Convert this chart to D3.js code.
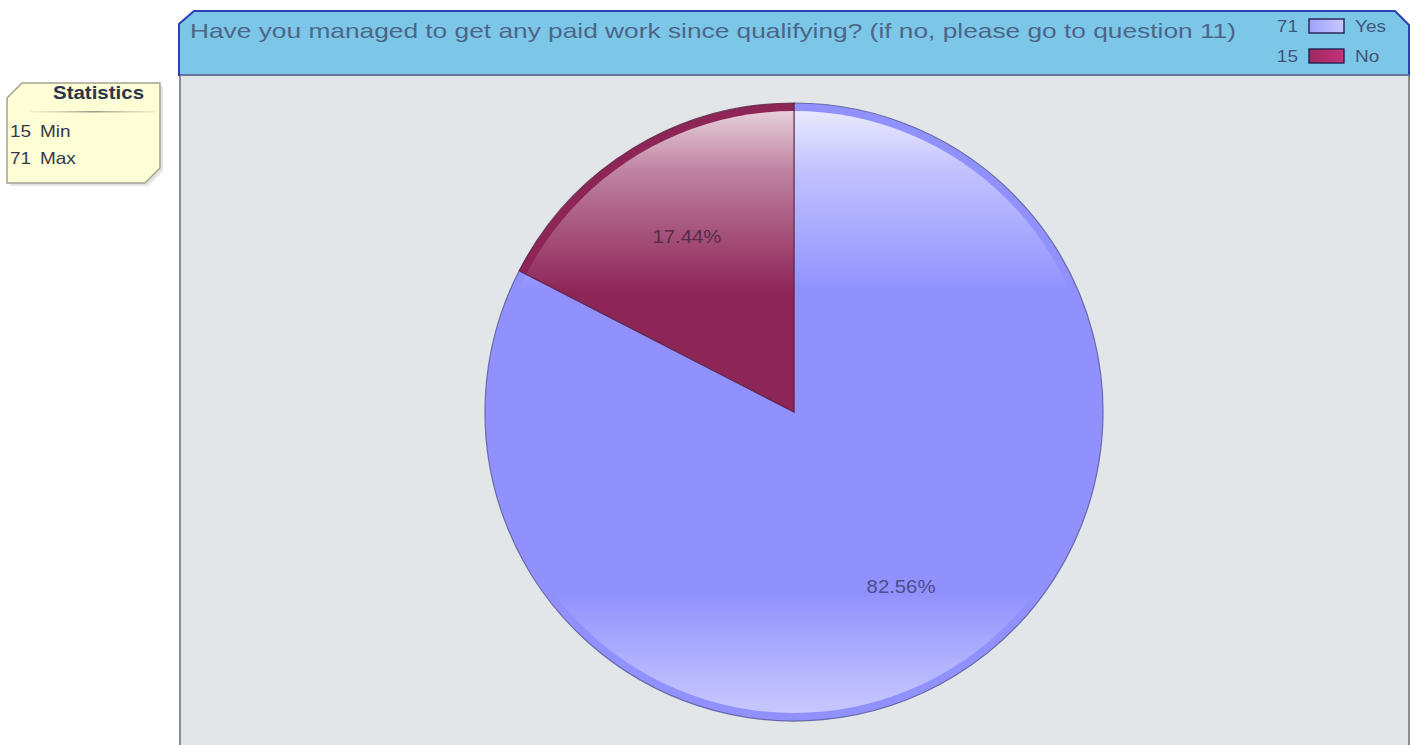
<!DOCTYPE html>
<html>
<head>
<meta charset="utf-8">
<script src="https://cdn.jsdelivr.net/npm/d3@7"></script>
<style>
  html, body { margin: 0; padding: 0; background: #ffffff; }
  svg { display: block; font-family: "Liberation Sans", Arial, sans-serif; }
</style>
</head>
<body>
<svg id="chart" width="1415" height="745"></svg>
<script>
// Survey answers
const categories = ["Yes", "No"];
const counts = [71, 15];
const baseColors = ["#9191fe", "#8e2557"];
const statLabels = ["Min", "Max"];
const statValues = [d3.min(counts), d3.max(counts)];
const title = "Have you managed to get any paid work since qualifying? (if no, please go to question 11)";

const svg = d3.select("#chart");
const defs = svg.append("defs");

// widen a text run horizontally (the chart's font is broader than Arial)
function widen(sel, factor) {
  sel.each(function () {
    const w = this.getComputedTextLength();
    d3.select(this).attr("textLength", w * factor).attr("lengthAdjust", "spacingAndGlyphs");
  });
  return sel;
}

// ---- panel frame ----
const panel = { left: 180, right: 1409, top: 11, headBottom: 75, bottom: 760 };

svg.append("rect")
  .attr("x", panel.left).attr("y", panel.headBottom)
  .attr("width", panel.right - panel.left).attr("height", panel.bottom - panel.headBottom)
  .attr("fill", "#e3e6e9").attr("stroke", "#8a8c90").attr("stroke-width", 2);

const head = d3.path();
head.moveTo(panel.left - 1, panel.headBottom);
head.lineTo(panel.left - 1, panel.top + 13);
head.lineTo(panel.left + 14, panel.top);
head.lineTo(panel.right - 14, panel.top);
head.lineTo(panel.right, panel.top + 14);
head.lineTo(panel.right, panel.headBottom);
head.closePath();
svg.append("path").attr("d", head.toString())
  .attr("fill", "#7cc7e8").attr("stroke", "#2b40b4").attr("stroke-width", 2);
svg.append("line")
  .attr("x1", panel.left).attr("x2", panel.right)
  .attr("y1", panel.headBottom).attr("y2", panel.headBottom)
  .attr("stroke", "#7d8a96").attr("stroke-width", 1.5);

svg.append("text")
  .attr("x", 190).attr("y", 38)
  .attr("font-size", 21).attr("fill", "#4d6688")
  .attr("textLength", 1046).attr("lengthAdjust", "spacingAndGlyphs")
  .text(title);

// ---- legend ----
const legend = svg.append("g");
categories.forEach((c, i) => {
  const y = 26 + i * 30;
  const gid = "lg" + i;
  const g = defs.append("linearGradient").attr("id", gid)
    .attr("x1", 0).attr("x2", 1).attr("y1", 0).attr("y2", 0);
  g.append("stop").attr("offset", 0).attr("stop-color", d3.color(baseColors[i]).brighter(0.3));
  g.append("stop").attr("offset", 1).attr("stop-color", d3.color(baseColors[i]).brighter(0.9));
  widen(legend.append("text").attr("x", 1298).attr("y", y + 6).attr("text-anchor", "end")
    .attr("font-size", 16.5).attr("fill", "#3f557a").text(counts[i]), 1.15);
  legend.append("rect").attr("x", 1309).attr("y", y - 7).attr("width", 35).attr("height", 14)
    .attr("fill", `url(#${gid})`).attr("stroke", "#2a2a5a").attr("stroke-width", 1.5);
  widen(legend.append("text").attr("x", 1355).attr("y", y + 6)
    .attr("font-size", 16.5).attr("fill", "#3f557a").text(c), 1.15);
});

// ---- statistics box ----
const sb = { x: 7, y: 83, w: 153, h: 100, cut: 15 };
const sp = d3.path();
sp.moveTo(sb.x, sb.y + sb.cut);
sp.lineTo(sb.x + sb.cut, sb.y);
sp.lineTo(sb.x + sb.w, sb.y);
sp.lineTo(sb.x + sb.w, sb.y + sb.h - sb.cut);
sp.lineTo(sb.x + sb.w - sb.cut, sb.y + sb.h);
sp.lineTo(sb.x, sb.y + sb.h);
sp.closePath();
svg.append("path").attr("d", sp.toString())
  .attr("transform", "translate(3,3)").attr("fill", "#000").attr("opacity", 0.1);
svg.append("path").attr("d", sp.toString())
  .attr("fill", "#fdfdd6").attr("stroke", "#a3a390").attr("stroke-width", 1.5);
widen(svg.append("text").attr("x", 53).attr("y", 99)
  .attr("font-size", 17.5).attr("font-weight", "bold").attr("fill", "#2e3448").text("Statistics"), 1.17);
const sepGrad = defs.append("linearGradient").attr("id", "sep");
sepGrad.append("stop").attr("offset", 0).attr("stop-color", "#c8c8b8").attr("stop-opacity", 0.2);
sepGrad.append("stop").attr("offset", 0.5).attr("stop-color", "#9a9a8a");
sepGrad.append("stop").attr("offset", 1).attr("stop-color", "#c8c8b8").attr("stop-opacity", 0.3);
svg.append("rect").attr("x", 30).attr("y", 111).attr("width", 126).attr("height", 1.5)
  .attr("fill", "url(#sep)");
statLabels.forEach((s, i) => {
  const y = 137 + i * 27;
  widen(svg.append("text").attr("x", 10).attr("y", y).attr("font-size", 16.5).attr("fill", "#333a4a").text(statValues[i]), 1.15);
  widen(svg.append("text").attr("x", 40).attr("y", y).attr("font-size", 16.5).attr("fill", "#333a4a").text(statLabels[i]), 1.15);
});

// ---- pie ----
const cx = 794, cy = 412, r = 309;
const total = d3.sum(counts);
const pie = d3.pie().sort(null).value(d => d.value);
const data = pie(categories.map((c, i) => ({ name: c, value: counts[i], color: baseColors[i] })));
const arc = d3.arc().innerRadius(0).outerRadius(r);
const labelArc = d3.arc().innerRadius(r * 0.665).outerRadius(r * 0.665);

const pg = svg.append("g").attr("transform", `translate(${cx},${cy})`);

data.forEach((d, i) => {
  const clipId = "clip" + i;
  defs.append("clipPath").attr("id", clipId).append("path").attr("d", arc(d));

  // vertical sheen: pale at the top, clear in the middle, soft glow near the bottom
  const gid = "sheen" + i;
  const g = defs.append("linearGradient").attr("id", gid)
    .attr("gradientUnits", "userSpaceOnUse")
    .attr("x1", 0).attr("x2", 0).attr("y1", -r + 8).attr("y2", r - 8);
  const topA = i === 0 ? 0.8 : 0.78;
  g.append("stop").attr("offset", 0).attr("stop-color", "#fff").attr("stop-opacity", topA);
  g.append("stop").attr("offset", 0.1).attr("stop-color", "#fff").attr("stop-opacity", topA * 0.55);
  g.append("stop").attr("offset", 0.3).attr("stop-color", "#fff").attr("stop-opacity", 0);
  g.append("stop").attr("offset", 0.8).attr("stop-color", "#fff").attr("stop-opacity", 0);
  g.append("stop").attr("offset", 1).attr("stop-color", "#fff").attr("stop-opacity", 0.5);

  pg.append("path").attr("d", arc(d)).attr("fill", d.data.color);
  pg.append("circle").attr("r", r - 8).attr("cy", 0)
    .attr("clip-path", `url(#${clipId})`)
    .attr("fill", `url(#${gid})`);
  pg.append("path").attr("d", arc(d))
    .attr("fill", "none").attr("stroke", i === 0 ? "#55559a" : "#5a2040")
    .attr("stroke-opacity", 0.8).attr("stroke-width", 1.2);
});

data.forEach((d, i) => {
  const [lx, ly] = labelArc.centroid(d);
  widen(pg.append("text").attr("x", lx).attr("y", ly + 6).attr("text-anchor", "middle")
    .attr("font-size", 17.5).attr("fill", i === 0 ? "#4d4d8c" : "#5a2c48")
    .text(d3.format(".2f")(d.data.value / total * 100) + "%"), 1.16);
});
</script>
</body>
</html>
